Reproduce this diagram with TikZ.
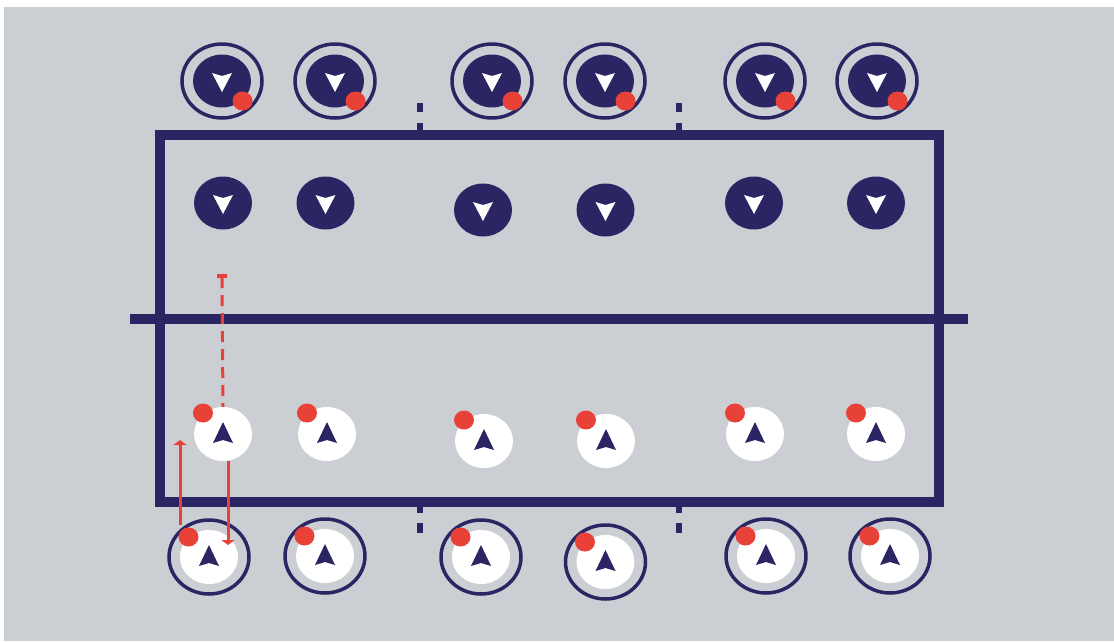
\documentclass[tikz,border=0pt]{standalone}
\definecolor{pitchgrey}{RGB}{203,207,212}
\definecolor{teamnavy}{RGB}{44,37,99}
\definecolor{ballred}{RGB}{232,65,56}
\usepackage{tikz}
\usetikzlibrary{arrows.meta,positioning,shapes.geometric,calc}
\newcommand{\downmark}[1]{\fill[white, shift={(#1)}] (-10,-8) -- (0,-5) -- (10,-8) -- (0,11) -- cycle;}
\newcommand{\upmark}[1]{\fill[teamnavy, shift={(#1)}] (-10,9) -- (0,6) -- (10,9) -- (0,-12) -- cycle;}

\begin{document}
\begin{tikzpicture}[x=1pt, y=-1pt,
    disc/.style={ellipse, inner sep=0pt, minimum width=58pt, minimum height=54pt},
    ring/.style={ellipse, draw=teamnavy, line width=3.5pt, inner sep=0pt,
                 minimum width=80pt, minimum height=74pt},
    pitchline/.style={teamnavy, line width=10pt},
    tickline/.style={teamnavy, line width=6pt},
    run/.style={ballred, line width=3pt, -{Triangle[width=13pt, length=5pt]}}]
    % field
    \fill[white] (0,0) rectangle (1114,641);
    \useasboundingbox (0,0) rectangle (1114,641);
    \fill[pitchgrey] (4,7) rectangle (1114,641);
    \draw[pitchline] (159.5,135) rectangle (938.5,501.5);
    \draw[pitchline] (130,318.5) -- (968,318.5);
    \foreach \tx in {420,679} {
      \draw[tickline, dash pattern=on 9pt off 11pt] (\tx,103) -- (\tx,130);
      \draw[tickline, dash pattern=on 7pt off 10pt on 10pt off 10pt] (\tx,506) -- (\tx,533);
    }
    % outer row, top
    \foreach \px/\py [count=\i] in {222/81, 335/81, 492/81, 605/81, 765/81, 877/81} {
      \node[ring] (t\i) at (\px,\py) {};
      \node[disc, fill=teamnavy, minimum height=53pt] (tc\i) at (t\i) {};
      \downmark{t\i}
      \fill[ballred] ($(t\i)+(20.5,20)$) ellipse [x radius=10, y radius=9.5];
    }
    % inner row, top half
    \foreach \px/\py [count=\i] in {223/203, 325.5/203, 483/210, 605.5/210, 754/203, 876/203} {
      \node[disc, fill=teamnavy, minimum height=53pt] (d\i) at (\px,\py) {};
      \downmark{d\i}
    }
    % inner row, bottom half
    \foreach \px/\py [count=\i] in {223/434, 327/434, 484/441, 606/441, 755/434, 876/434} {
      \node[disc, fill=white] (m\i) at (\px,\py) {};
      \upmark{m\i}
      \fill[ballred] ($(m\i)+(-20,-21)$) ellipse [x radius=10, y radius=9.5];
    }
    % outer row, bottom
    \foreach \px/\py [count=\i] in {209/557, 325/556, 481/557, 605.5/562, 766/556, 890/556} {
      \node[ring] (b\i) at (\px,\py) {};
      \node[disc, fill=white] (bc\i) at (b\i) {};
      \upmark{b\i}
      \fill[ballred] ($(b\i)+(-20.5,-20)$) ellipse [x radius=10, y radius=9.5];
    }
    % runs
    \coordinate (cue) at (222,274);
    \coordinate (runto) at (180,440);
    \draw[ballred, line width=3pt, dash pattern=on 11pt off 7pt,
          {Bar[width=10pt, line width=4pt]}-] (cue) -- (m1.north);
    \draw[run] ([xshift=-29pt, yshift=32pt]b1.center) -- (runto);
    \draw[run] ([xshift=5pt]m1.south) -- ([xshift=19pt, yshift=12pt]b1.center);
\end{tikzpicture}
\end{document}
